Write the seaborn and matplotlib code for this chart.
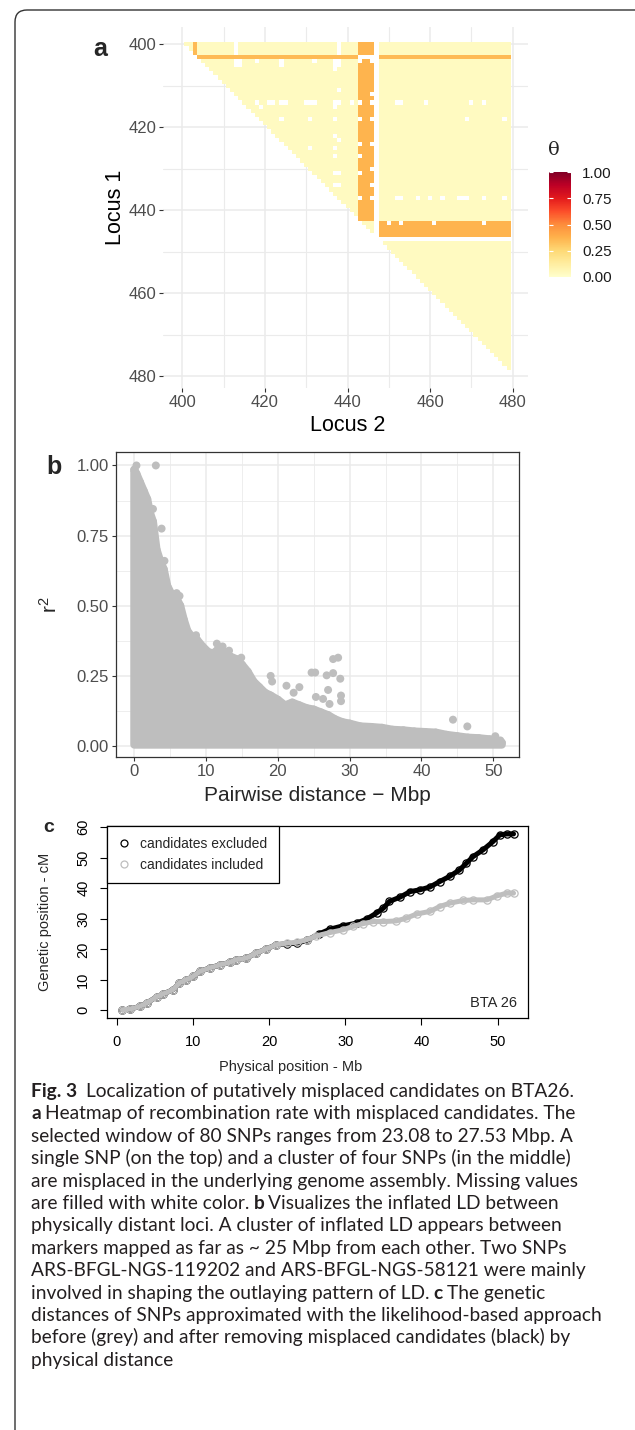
import numpy as np
import pandas as pd
import seaborn as sns
import matplotlib
matplotlib.use("Agg")
import matplotlib.pyplot as plt
from matplotlib.colors import ListedColormap
from matplotlib.lines import Line2D
from matplotlib.patches import FancyBboxPatch
from matplotlib.transforms import IdentityTransform

# ---------------- panel a: recombination rate (theta) for an 80-SNP window
loci = list(range(400, 480))
theta_background = 0.035
theta_single = 0.35
theta_cluster = 0.37
single_snp = 403
cluster_snps = [443, 444, 445, 446]
dropped_snp = 447
# (locus 1, locus 2) pairs without an estimate
missing_pairs = [
    (400, 413), (401, 413), (402, 413), (400, 438), (401, 438), (402, 438),
    (403, 443), (403, 444), (403, 445), (403, 446), (404, 443), (404, 446),
    (404, 413), (404, 414), (404, 418), (404, 424), (404, 432), (404, 437), (404, 438),
    (405, 413), (405, 414), (405, 424), (405, 437), (405, 438), (406, 437),
    (411, 438), (412, 446),
    (414, 418), (414, 421), (414, 422), (414, 424), (414, 425), (414, 430), (414, 431),
    (414, 432), (414, 437), (414, 438), (414, 441), (414, 443), (414, 446),
    (414, 452), (414, 453), (414, 459), (414, 470), (414, 473),
    (415, 419), (415, 437),
    (418, 424), (418, 431), (418, 437), (418, 443), (418, 446), (418, 469), (418, 478),
    (422, 437), (423, 438), (424, 443), (424, 446),
    (425, 431), (425, 437), (427, 437), (427, 443), (430, 446),
    (431, 437), (431, 438), (431, 443), (434, 437), (434, 438), (434, 446),
    (437, 443), (437, 446), (437, 452), (437, 453), (437, 457), (437, 460), (437, 463),
    (437, 467), (437, 468), (437, 469), (437, 473), (437, 478),
    (443, 450), (443, 453), (443, 461), (443, 473),
]

# ---------------- panel b: r2 against pairwise distance
envelope_dist = [0.0, 0.3, 0.8, 1.3, 1.8, 2.2, 2.6, 3.1, 3.6, 4.1, 4.6, 5.2, 5.8, 6.4, 6.9,
                 7.4, 8.0, 8.7, 9.5, 10.3, 11.0, 11.7, 12.5, 13.3, 14.2, 15.0, 15.8, 16.6,
                 17.4, 18.2, 19.0, 20.0, 21.0, 22.0, 23.0, 24.0, 25.0, 26.0, 27.0, 28.0,
                 29.0, 30.0, 31.5, 33.0, 34.5, 36.0, 37.5, 39.0, 40.5, 42.0, 43.5, 45.0,
                 46.5, 48.0, 49.5, 50.5, 51.2]
envelope_r2 = [0.985, 0.97, 0.94, 0.91, 0.88, 0.83, 0.80, 0.70, 0.66, 0.63, 0.57, 0.54, 0.53,
               0.50, 0.45, 0.41, 0.39, 0.38, 0.355, 0.335, 0.33, 0.345, 0.335, 0.32, 0.31,
               0.29, 0.265, 0.23, 0.21, 0.19, 0.18, 0.165, 0.145, 0.155, 0.145, 0.135, 0.13,
               0.12, 0.11, 0.095, 0.085, 0.08, 0.07, 0.068, 0.065, 0.058, 0.056, 0.052, 0.05,
               0.048, 0.04, 0.035, 0.03, 0.028, 0.024, 0.02, 0.012]
r2_floor = 0.005
outlier_dist = [0.3, 3.0, 2.6, 3.8, 4.2, 5.9, 6.3, 8.6, 11.5, 12.3, 13.2, 14.9, 19.0, 19.2,
                21.2, 22.2, 23.0, 24.7, 25.2, 25.3, 26.3, 26.8, 27.0, 27.2, 27.7, 28.4, 27.7,
                28.7, 28.8, 28.8, 44.4, 46.4, 50.3, 51.0]
outlier_r2 = [1.0, 1.0, 0.845, 0.775, 0.66, 0.545, 0.535, 0.395, 0.365, 0.355, 0.34, 0.315,
              0.25, 0.23, 0.215, 0.19, 0.21, 0.262, 0.262, 0.175, 0.168, 0.252, 0.20, 0.15,
              0.31, 0.315, 0.26, 0.24, 0.18, 0.16, 0.094, 0.07, 0.035, 0.02]

# ---------------- panel c: genetic vs physical position, BTA 26
excl_pos = [0.7, 1.7, 3.0, 3.9, 5.2, 6.0, 7.4, 8.2, 9.1, 10.0, 10.9, 12.2, 13.5, 14.8, 15.7,
            17.0, 18.3, 19.6, 20.9, 22.3, 23.6, 24.9, 26.6, 28.0, 29.7, 31.5, 32.8, 34.1,
            35.0, 35.8, 37.2, 38.5, 39.8, 41.1, 42.4, 43.7, 45.0, 45.9, 46.8, 48.1, 49.4,
            50.3, 51.2, 52.1]
excl_cm = [0.2, 0.4, 1.3, 2.4, 4.4, 5.3, 6.8, 9.0, 10.0, 11.1, 12.8, 13.9, 14.9, 15.7, 16.6,
           17.1, 18.8, 20.1, 21.5, 21.8, 22.0, 22.9, 25.1, 26.6, 27.7, 28.6, 29.9, 31.9, 33.5,
           35.7, 37.1, 38.9, 39.5, 40.4, 42.2, 43.9, 46.0, 48.2, 50.4, 52.6, 55.3, 57.5, 57.8,
           57.8]
incl_pos = [0.7, 1.7, 3.0, 3.9, 5.2, 6.0, 7.4, 8.2, 9.1, 10.0, 10.9, 12.2, 13.5, 14.8, 15.7,
            17.0, 18.3, 19.6, 20.9, 22.3, 23.6, 24.9, 26.2, 28.0, 29.7, 31.0, 32.3, 33.7,
            35.0, 36.7, 38.0, 39.4, 41.1, 42.4, 43.7, 45.5, 46.8, 48.6, 49.9, 51.2, 52.1]
incl_cm = [0.2, 0.4, 1.3, 2.4, 4.4, 5.3, 6.8, 9.0, 10.0, 11.1, 12.8, 13.9, 14.9, 15.7, 16.6,
           17.1, 18.8, 20.1, 21.5, 22.0, 22.3, 23.1, 24.4, 25.5, 26.4, 27.5, 28.4, 29.1, 29.1,
           29.3, 30.2, 31.6, 32.4, 34.0, 35.1, 36.0, 36.2, 36.2, 37.5, 38.4, 38.4]

caption = [
    [("Fig. 3", True), ("Localization of putatively misplaced candidates on BTA26.", False)],
    [("a", True), ("Heatmap of recombination rate with misplaced candidates. The", False)],
    [("selected window of 80 SNPs ranges from 23.08 to 27.53 Mbp. A", False)],
    [("single SNP (on the top) and a cluster of four SNPs (in the middle)", False)],
    [("are misplaced in the underlying genome assembly. Missing values", False)],
    [("are filled with white color.", False), ("b", True),
     ("Visualizes the inflated LD between", False)],
    [("physically distant loci. A cluster of inflated LD appears between", False)],
    [("markers mapped as far as ~ 25 Mbp from each other. Two SNPs", False)],
    [("ARS-BFGL-NGS-119202 and ARS-BFGL-NGS-58121 were mainly", False)],
    [("involved in shaping the outlaying pattern of LD.", False), ("c", True),
     ("The genetic", False)],
    [("distances of SNPs approximated with the likelihood-based approach", False)],
    [("before (grey) and after removing misplaced candidates (black) by", False)],
    [("physical distance", False)],
]

sns.set_style("whitegrid")
plt.rcParams["font.family"] = ["Liberation Sans", "DejaVu Sans"]
plt.rcParams["axes.axisbelow"] = True

W, H = 635, 1430
fig = plt.figure(figsize=(W / 100, H / 100), dpi=100)


def box(left, top, right, bottom):
    return [left / W, 1 - bottom / H, (right - left) / W, (bottom - top) / H]


def label(x, y, s, **kw):
    fig.text(x / W, 1 - y / H, s, ha="center", va="center", **kw)


# ---- panel a
theta = pd.DataFrame(np.nan, index=loci, columns=loci)
footprint = pd.DataFrame(np.nan, index=loci, columns=loci)
for i in loci:
    for j in loci:
        if j <= i:
            continue
        footprint.loc[i, j] = 1.0
        if dropped_snp in (i, j):
            continue
        if (i in cluster_snps) != (j in cluster_snps):
            theta.loc[i, j] = theta_cluster
        elif single_snp in (i, j):
            theta.loc[i, j] = theta_single
        else:
            theta.loc[i, j] = theta_background
for i, j in missing_pairs:
    theta.loc[i, j] = np.nan

ax_a = fig.add_axes(box(163, 27, 528, 388))
cax = fig.add_axes(box(549, 172, 571, 277))
sns.heatmap(footprint, ax=ax_a, cmap=ListedColormap(["white"]), cbar=False,
            xticklabels=False, yticklabels=False)
sns.heatmap(theta, ax=ax_a, cmap="YlOrRd", vmin=0, vmax=1, cbar_ax=cax,
            xticklabels=False, yticklabels=False)
ticks = [400, 420, 440, 460, 480]
minor = [410, 430, 450, 470]
ax_a.set_xticks([t - 399.5 for t in ticks])
ax_a.set_xticklabels([str(t) for t in ticks])
ax_a.set_yticks([t - 399.5 for t in ticks])
ax_a.set_yticklabels([str(t) for t in ticks], rotation=0)
ax_a.set_xticks([t - 399.5 for t in minor], minor=True)
ax_a.set_yticks([t - 399.5 for t in minor], minor=True)
ax_a.set_xlim(-4.2, 84.2)
ax_a.set_ylim(83.4, -3.7)
ax_a.grid(True, which="major", color="#EBEBEB", lw=1.1)
ax_a.grid(True, which="minor", color="#EBEBEB", lw=0.8)
ax_a.tick_params(which="major", length=3, width=0.8, color="#333333", labelsize=12,
                 labelcolor="#4D4D4D", pad=2, bottom=True, left=True)
ax_a.tick_params(which="minor", length=0)
ax_a.set_xlabel("Locus 2", fontsize=15.5, color="black")
ax_a.set_ylabel("Locus 1", fontsize=15.5, color="black")
ax_a.xaxis.set_label_coords(0.505, -0.103)
ax_a.yaxis.set_label_coords(-0.13, 0.5)
ax_a.xaxis.label.set_va("center")
ax_a.yaxis.label.set_va("center")

cb_ticks = [0, 0.25, 0.5, 0.75, 1.0]
cax.set_yticks(cb_ticks)
cax.set_yticklabels([f"{t:.2f}" for t in cb_ticks])
cax.tick_params(length=0, labelsize=11, labelcolor="#1A1A1A", pad=8)
cax.hlines(cb_ticks, 0, 0.2, colors="white", lw=0.8)
cax.hlines(cb_ticks, 0.8, 1.0, colors="white", lw=0.8)
fig.text(548 / W, 1 - 150 / H, "θ", ha="left", va="center", fontsize=14,
         family="DejaVu Serif")
label(100, 49, "a", fontsize=18, fontweight="bold")

# ---- panel b
grey = "#BEBEBE"
ax_b = fig.add_axes(box(116, 452, 519, 757))
poly_x = [envelope_dist[0]] + envelope_dist + [envelope_dist[-1]]
poly_y = [r2_floor] + envelope_r2 + [r2_floor]
ax_b.fill(poly_x, poly_y, facecolor=grey, edgecolor=grey, lw=5.8, joinstyle="round",
          zorder=2)
sns.scatterplot(x=envelope_dist, y=envelope_r2, ax=ax_b, color=grey, s=33,
                edgecolor="none", linewidth=0, zorder=3)
sns.scatterplot(x=outlier_dist, y=outlier_r2, ax=ax_b, color=grey, s=33,
                edgecolor="none", linewidth=0, zorder=3)
ax_b.set_xlim(-2.55, 53.6)
ax_b.set_ylim(-0.039, 1.048)
ax_b.set_xticks([0, 10, 20, 30, 40, 50])
ax_b.set_xticks([5, 15, 25, 35, 45], minor=True)
ax_b.set_yticks(cb_ticks)
ax_b.set_yticklabels([f"{t:.2f}" for t in cb_ticks])
ax_b.set_yticks([0.125, 0.375, 0.625, 0.875], minor=True)
ax_b.grid(True, which="major", color="#EBEBEB", lw=1.1)
ax_b.grid(True, which="minor", color="#EBEBEB", lw=0.6)
for sp in ax_b.spines.values():
    sp.set_visible(True)
    sp.set_color("#333333")
    sp.set_linewidth(0.9)
ax_b.tick_params(which="major", length=3, width=0.8, color="#333333", labelsize=12,
                 labelcolor="#4D4D4D", pad=2, bottom=True, left=True)
ax_b.tick_params(which="minor", length=0)
ax_b.set_xlabel("Pairwise distance \u2212 Mbp", fontsize=15)
ax_b.set_ylabel(r"$\mathregular{r^2}$", fontsize=15)
ax_b.xaxis.set_label_coords(0.5, -0.126)
ax_b.yaxis.set_label_coords(-0.163, 0.5)
ax_b.xaxis.label.set_va("center")
ax_b.yaxis.label.set_va("center")
label(54, 467, "b", fontsize=18, fontweight="bold")

# ---- panel c
ax_c = fig.add_axes(box(107, 826, 528, 1018))
sns.lineplot(x=excl_pos, y=excl_cm, ax=ax_c, color="black", lw=3.6, sort=False,
             estimator=None, marker="o", markersize=5.2, markerfacecolor="none",
             markeredgecolor="black", markeredgewidth=0.9, legend=False)
sns.lineplot(x=incl_pos, y=incl_cm, ax=ax_c, color=grey, lw=3.6, sort=False,
             estimator=None, marker="o", markersize=5.2, markerfacecolor="none",
             markeredgecolor=grey, markeredgewidth=0.9, legend=False)
ax_c.set_xlim(-1.31, 54.0)
ax_c.set_ylim(-2.5, 60.4)
ax_c.set_xticks([0, 10, 20, 30, 40, 50])
ax_c.set_yticks([0, 10, 20, 30, 40, 50, 60])
ax_c.grid(False)
for sp in ax_c.spines.values():
    sp.set_visible(True)
    sp.set_color("black")
    sp.set_linewidth(0.9)
ax_c.tick_params(length=5, width=0.8, color="black", labelsize=10.5, labelcolor="black",
                 pad=7, bottom=True, left=True, direction="out")
plt.setp(ax_c.get_yticklabels(), rotation=90, va="center")
ax_c.set_xlabel("Physical position - Mb", fontsize=10.5)
ax_c.set_ylabel("Genetic position - cM", fontsize=10.5)
ax_c.xaxis.set_label_coords(0.437, -0.253)
ax_c.yaxis.set_label_coords(-0.148, 0.5)
ax_c.xaxis.label.set_va("center")
ax_c.yaxis.label.set_va("center")
handles = [Line2D([], [], ls="none", marker="o", markersize=5, markerfacecolor="none",
                  markeredgecolor=c, markeredgewidth=0.9) for c in ["black", grey]]
leg = ax_c.legend(handles, ["candidates excluded", "candidates included"],
                  loc="upper left", bbox_to_anchor=(0, 1), borderaxespad=0,
                  fontsize=10, frameon=True, fancybox=False, edgecolor="black",
                  framealpha=1, handlelength=0.9, handletextpad=0.7, borderpad=0.8,
                  labelspacing=0.5)
leg.get_frame().set_linewidth(0.9)
ax_c.text(0.975, 0.08, "BTA 26", transform=ax_c.transAxes, ha="right", va="center",
          fontsize=10.5)
label(49, 827, "c", fontsize=14, fontweight="bold")

# ---- caption
renderer = fig.canvas.get_renderer()
for k, parts in enumerate(caption):
    x = 31
    y = 1097 + 22.4 * k
    for n, (s, bold) in enumerate(parts):
        t = fig.text(x / W, 1 - y / H, s, ha="left", va="baseline", fontsize=13.8,
                     family=["Lato", "DejaVu Sans"],
                     fontweight="bold" if bold else "normal", color="#231F20")
        bb = t.get_window_extent(renderer)
        x = bb.x1 + (9 if (k == 0 and n == 0) else 4)

# ---- outer frame
frame = FancyBboxPatch((15, -40), 700, H - 10 + 40, boxstyle="round,pad=0,rounding_size=12",
                       transform=IdentityTransform(), facecolor="none",
                       edgecolor="#333333", lw=1.0)
fig.add_artist(frame)

fig.savefig("out.png", dpi=100)
